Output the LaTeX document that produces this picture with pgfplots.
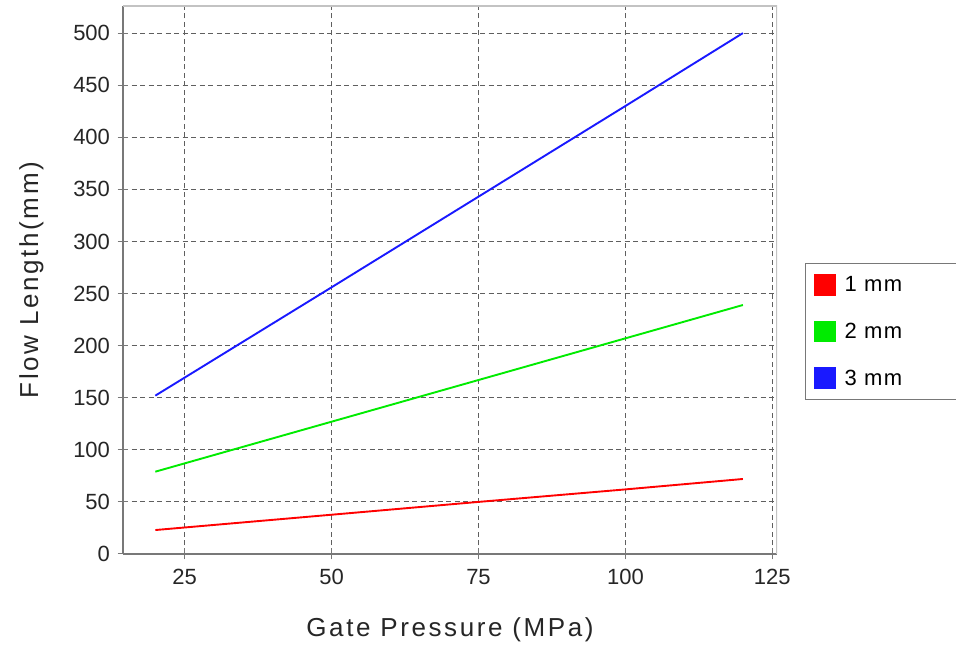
\documentclass[border=0pt]{standalone}
\usepackage{fontspec}
\setmainfont{Liberation Sans}
\newfontfamily\labelfont[LetterSpace=10]{Liberation Sans}
\usepackage{pgfplots}
\pgfplotsset{compat=1.18}
\definecolor{gridgray}{RGB}{95,95,95}
\definecolor{axgray}{RGB}{120,120,120}
\definecolor{framegray}{RGB}{195,195,195}
\definecolor{lgreen}{RGB}{0,235,0}
\begin{document}
\begin{tikzpicture}
\path[use as bounding box] (0pt,0pt) rectangle (956pt,645pt);
\begin{axis}[
  at={(123pt,91pt)}, anchor=south west,
  scale only axis,
  width=654pt, height=548pt,
  xmin=14.5, xmax=125.8,
  ymin=0, ymax=526,
  xtick={25,50,75,100,125},
  ytick={0,50,...,500},
  axis lines*=left,
  axis line style={axgray, line width=1.8pt},
  tick align=center,
  major tick length=11pt,
  tick style={axgray, line width=1pt},
  grid=major,
  major grid style={gridgray, dash pattern=on 5pt off 3.5pt, line width=0.9pt},
  /pgf/number format/assume math mode=true,
  tick label style={font=\fontsize{22}{24}\selectfont, black!85},
  xticklabel style={yshift=-6pt},
  yticklabel style={xshift=-4pt},
  xlabel={\labelfont\fontsize{26}{28}\selectfont Gate Pressure (MPa)},
  ylabel={\labelfont\fontsize{26}{28}\selectfont Flow Length(mm)},
  x label style={at={(axis description cs:0.5,0)}, anchor=north, yshift=-60pt, black!85},
  y label style={at={(axis description cs:0,0.5)}, anchor=south, yshift=76pt, black!85},
  legend style={at={(rel axis cs:1.043,0.531)}, anchor=north west,
    draw=axgray, line width=1.2pt, fill=white,
    font=\fontsize{22}{24}\selectfont,
    inner xsep=8pt, inner ysep=10pt,
    row sep=25pt, column sep=7pt,
    text width=110pt},
  legend cell align=left,
  legend image code/.code={\fill[#1] (0pt,-10pt) rectangle (20pt,10pt);},
]
\addplot[red, line width=1.9pt] coordinates {(20,23) (50,37.7) (75,50) (100,62) (120,72)};
\addlegendentry{\addfontfeatures{LetterSpace=6}1 mm}
\addplot[lgreen, line width=1.9pt] coordinates {(20,79) (50,127) (75,167) (100,207) (120,239)};
\addlegendentry{\addfontfeatures{LetterSpace=6}2 mm}
\addplot[blue!90!white, line width=1.9pt] coordinates {(20,152) (50,256) (75,343) (100,430) (120,500)};
\addlegendentry{\addfontfeatures{LetterSpace=6}3 mm}
\draw[framegray, line width=1.8pt] (rel axis cs:0,1) -- (rel axis cs:1,1) -- (rel axis cs:1,0);
\end{axis}
\end{tikzpicture}
\end{document}
